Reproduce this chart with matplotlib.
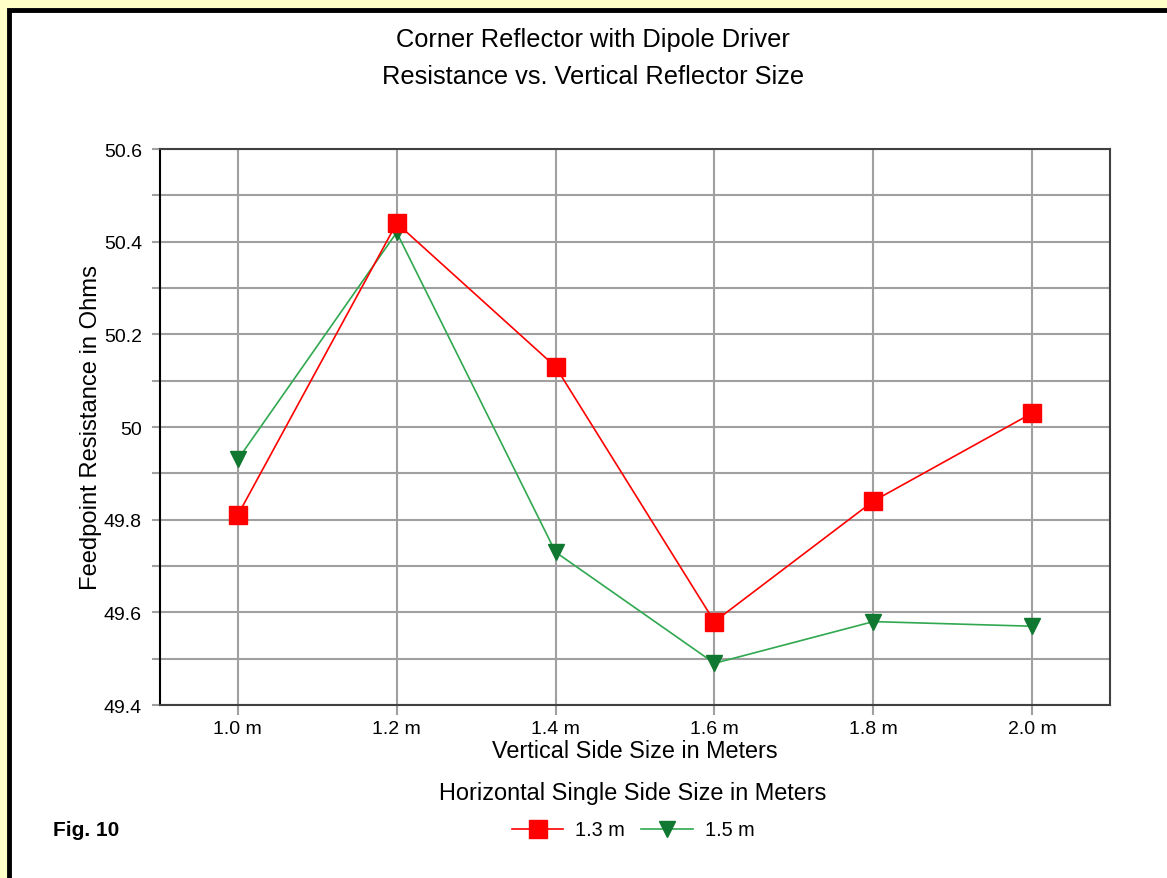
import numpy as np
import matplotlib
matplotlib.use("Agg")
import matplotlib.pyplot as plt
from matplotlib.patches import Rectangle
from matplotlib.ticker import MultipleLocator

plt.rcParams['font.family'] = ['Liberation Sans', 'DejaVu Sans']

# data
sizes = ["1.0 m", "1.2 m", "1.4 m", "1.6 m", "1.8 m", "2.0 m"]
r_13 = [49.81, 50.44, 50.13, 49.58, 49.84, 50.03]
r_15 = [49.93, 50.42, 49.73, 49.49, 49.58, 49.57]
series_names = ["1.3 m", "1.5 m"]

W, H = 1167, 879
fig = plt.figure(figsize=(W / 100, H / 100), dpi=100)
fig.patch.set_facecolor("#FFFFC8")

# white panel with black frame (runs off right/bottom edges)
fig.patches.append(Rectangle((9 / W, -0.1), 1.2, 1 - 11 / H + 0.1,
                             transform=fig.transFigure, facecolor="white",
                             edgecolor="black", linewidth=3.5, zorder=-5))

ax = fig.add_axes([160 / W, (H - 706) / H, 950 / W, 556 / H])
ax.set_zorder(1)
x = np.arange(len(sizes))

gridc = "#A0A0A0"
ax.plot(x, r_13, color="#FF0000", lw=1.2, marker="s", ms=12.5,
        mfc="#FF0000", mec="#FF0000", label=series_names[0], zorder=4)
ax.plot(x, r_15, color="#30A850", lw=1.2, marker="v", ms=12,
        mfc="#107830", mec="#107830", label=series_names[1], zorder=3)

ax.set_xlim(-0.49, 5.49)
ax.set_ylim(49.4, 50.6)
ax.set_xticks(x)
ax.set_xticklabels(sizes)
ax.yaxis.set_minor_locator(MultipleLocator(0.1))
ax.set_yticks([49.4, 49.6, 49.8, 50.0, 50.2, 50.4, 50.6])
ax.set_yticklabels(["49.4", "49.6", "49.8", "50", "50.2", "50.4", "50.6"])

ax.grid(True, which="both", color=gridc, lw=1.5)
ax.set_axisbelow(True)
ax.tick_params(axis="y", which="both", direction="out", length=6, width=1.5,
               color=gridc, labelsize=14, pad=7)
ax.tick_params(axis="x", direction="out", length=7, width=1.5, color=gridc,
               labelsize=14, pad=4)
for s in ["top", "right", "bottom"]:
    ax.spines[s].set_color("#404040")
    ax.spines[s].set_linewidth(1.5)
ax.spines["left"].set_color("black")
ax.spines["left"].set_linewidth(1.5)

ax.set_xlabel("Vertical Side Size in Meters", fontsize=16.8, labelpad=1)
ax.set_ylabel("Feedpoint Resistance in Ohms", fontsize=17.1, labelpad=1)

fig.text(593 / W, 1 - 40 / H, "Corner Reflector with Dipole Driver",
         ha="center", va="center", fontsize=18.3)
fig.text(593 / W, 1 - 77 / H, "Resistance vs. Vertical Reflector Size",
         ha="center", va="center", fontsize=18.3)

fig.text(633 / W, 1 - 794 / H, "Horizontal Single Side Size in Meters",
         ha="center", va="center", fontsize=16.9)
fig.legend(loc="center", bbox_to_anchor=(633 / W, 1 - 831 / H), ncol=2,
           frameon=False, fontsize=14.3, handlelength=2.6, columnspacing=0.8,
           handletextpad=0.6, borderpad=0)

fig.text(53 / W, 1 - 831 / H, "Fig. 10", ha="left", va="center",
         fontsize=15, fontweight="bold")

fig.savefig("out.png", dpi=100, facecolor=fig.get_facecolor())
